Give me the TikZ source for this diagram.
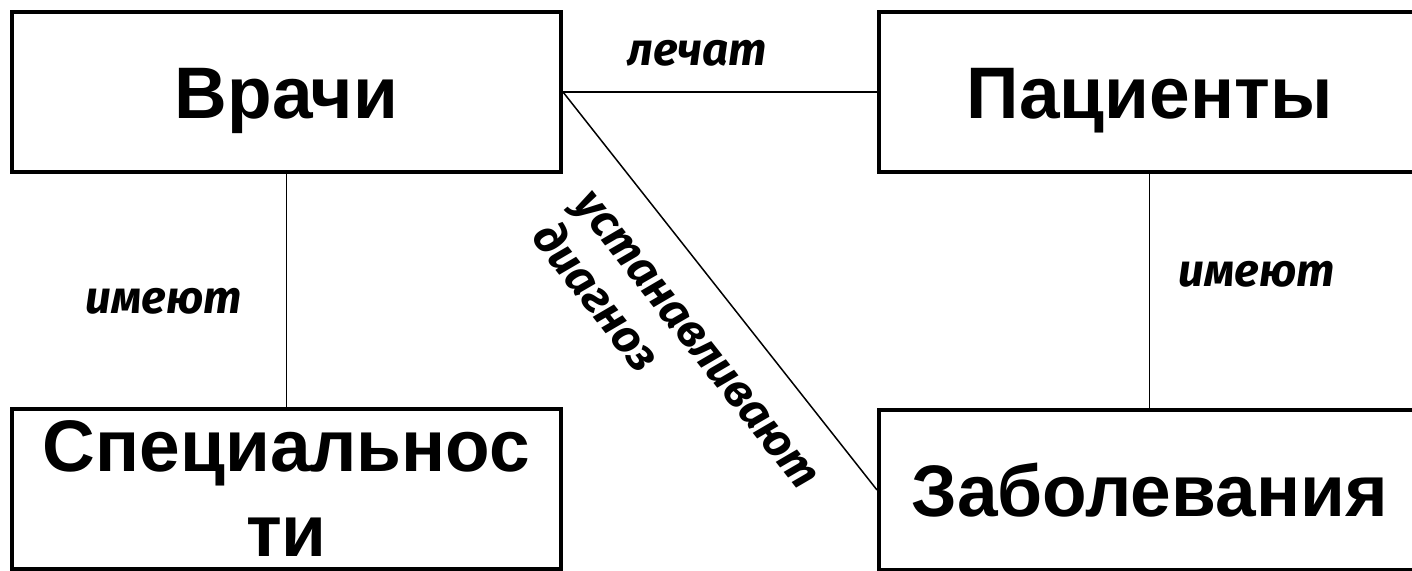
\documentclass[tikz,border=0pt]{standalone}
\usepackage{fontspec}
\setmainfont{Liberation Sans}
\newfontfamily\relfont{Fira Sans}
\usetikzlibrary{positioning}

\tikzset{
  entity/.style={draw, line width=4pt, inner sep=0pt, align=center,
    font=\fontsize{73}{85}\selectfont\bfseries},
  oneline/.style={text height=52pt, text depth=0pt},
  rel/.style={font=\relfont\fontsize{46}{54}\selectfont\bfseries\itshape, inner sep=0pt},
  link/.style={line width=1.5pt}
}

\begin{document}
\begin{tikzpicture}[x=1pt, y=1pt]
\useasboundingbox (0,0) rectangle (1412,-570);
\fill[white] (0,0) rectangle (1412,-570);
\clip (0,0) rectangle (1412,-570);

% Entities
\node[entity, oneline, minimum width=549pt, minimum height=160pt] (vrachi) at (286.5,-92) {Врачи};
\node[entity, oneline, minimum width=541pt, minimum height=160pt] (pacienty) at (1149.5,-92) {Пациенты};
\node[entity, minimum width=549pt, minimum height=160pt] (spec) at (286.5,-489) {Специальнос\\ти};
\node[entity, minimum width=541pt, minimum height=160pt] (zabol) at (1149.5,-490) {Заболевания};

% Relations
\draw[link] (vrachi.east) -- node[rel, above=25pt, pos=0.427] {лечат} (pacienty.west);
\draw[link] (vrachi.south) -- node[rel, left=44pt, pos=0.546] {имеют} (spec.north);
\draw[link] (pacienty.south) -- node[rel, right=28pt, pos=0.43] {имеют} (zabol.north);
\draw[link] (vrachi.east) -- node[rel, sloped, pos=0.547, below=36pt, align=left] {устанавливают\\диагноз} (zabol.west);
\end{tikzpicture}
\end{document}
